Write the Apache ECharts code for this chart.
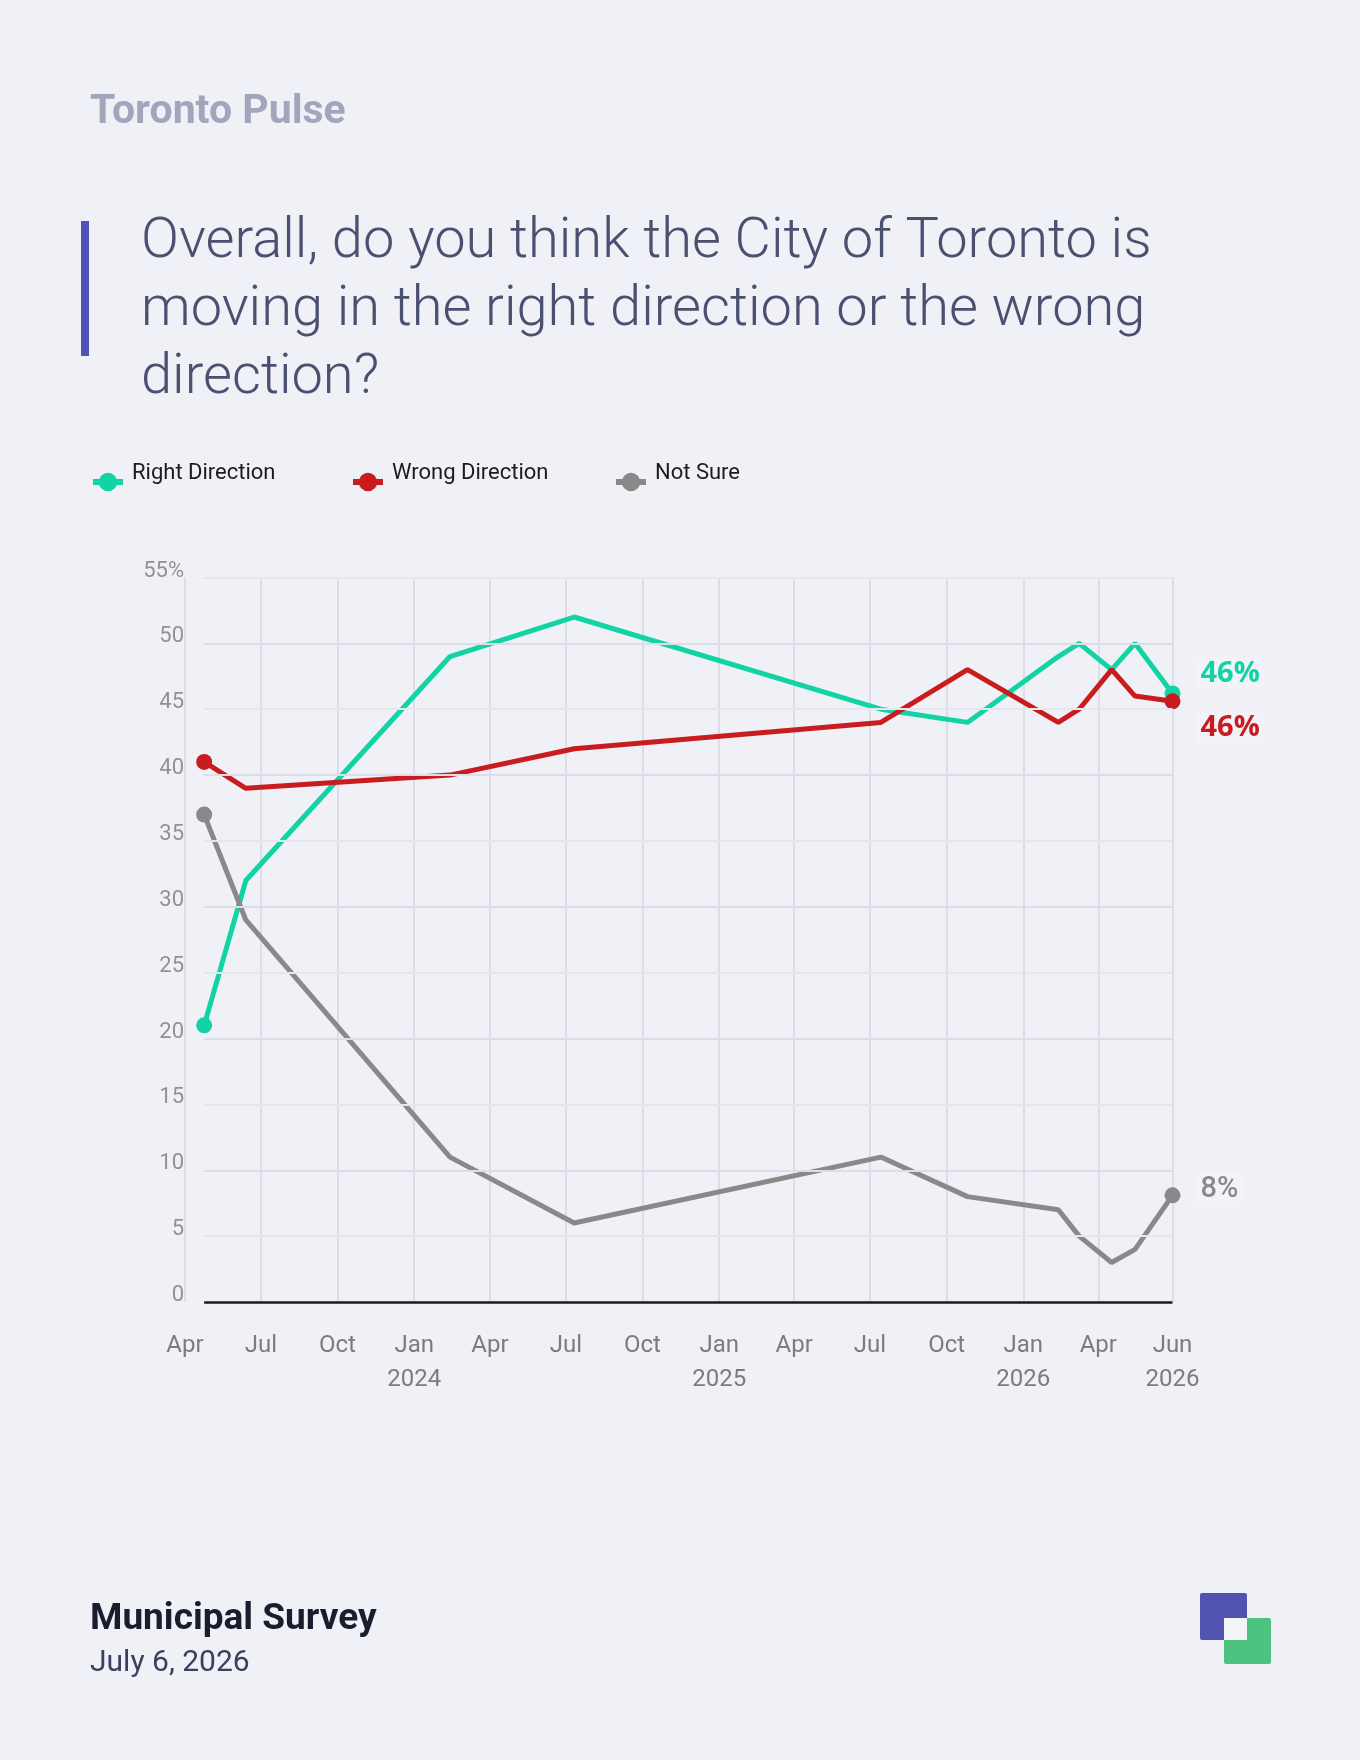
<!DOCTYPE html>
<html>
<head>
<meta charset="utf-8">
<script src="https://cdn.jsdelivr.net/npm/echarts@6/dist/echarts.min.js"></script>
<style>
html,body{margin:0;padding:0;background:#f0f1f7;}
#chart{width:1360px;height:1760px;}
</style>
</head>
<body>
<div id="chart"></div>
<script>
// ---- data ----
const surveyDates = ['2023-04-24','2023-06-13','2024-02-13','2024-07-11','2025-07-14','2025-10-26','2026-02-12','2026-03-09','2026-04-17','2026-05-15','2026-06-29'];
const rightDirection = [21, 32, 49, 52, 45, 44, 49, 50, 48, 50, 46.2];
const wrongDirection = [41, 39, 40, 42, 44, 48, 44, 45, 48, 46, 45.6];
const notSure        = [37, 29, 11, 6, 11, 8, 7, 5, 3, 4, 8.1];
const seriesNames = ['Right Direction', 'Wrong Direction', 'Not Sure'];
const yTicks = [0, 5, 10, 15, 20, 25, 30, 35, 40, 45, 50, 55];
const axisStartDate = '2023-04-01';
const monthNames = ['Jan','Feb','Mar','Apr','May','Jun','Jul','Aug','Sep','Oct','Nov','Dec'];

// ---- helpers ----
function toTs(s) { const p = s.split('-').map(Number); return Date.UTC(p[0], p[1] - 1, p[2]); }
const ts = surveyDates.map(toTs);
const firstTs = ts[0];
const lastTs = ts[ts.length - 1];
const axisMin = toTs(axisStartDate);
const DAY = 86400000;

const colors = { right: '#12d3a5', wrong: '#c81c1f', unsure: '#898989' };
const legendLefts = [90, 350, 613];

function makeData(values, labelCfg) {
  const last = values.length - 1;
  return values.map((v, i) => {
    const item = { value: [ts[i], v] };
    if (i === 0 || i === last) { item.symbol = 'circle'; item.symbolSize = 16; }
    else { item.symbol = 'none'; }
    if (i === last) item.label = labelCfg;
    return item;
  });
}

function endLabel(color, dy, font, weight) {
  return {
    show: true,
    position: 'right',
    distance: 14,
    offset: [0, dy],
    formatter: p => Math.round(p.value[1]) + '%',
    color: color,
    fontFamily: font,
    fontWeight: weight,
    fontSize: 29,
    backgroundColor: 'rgba(255,255,255,0.14)',
    borderRadius: 6,
    padding: [2, 6]
  };
}

// horizontal gridlines drawn from first to last survey
const gridLineData = yTicks.map(v => {
  let style;
  if (v === 0) style = { color: '#1b1b1f', width: 2.5, type: 'solid' };
  else if (v % 10 === 0) style = { color: '#dcdde6', width: 2, type: 'solid' };
  else style = { color: '#e6e7ee', width: 2, type: 'solid' };
  return [{ coord: [firstTs, v], lineStyle: style }, { coord: [lastTs, v] }];
});

const legends = seriesNames.map((name, i) => ({
  data: [name],
  left: legendLefts[i],
  top: 462,
  padding: 0,
  itemWidth: 30,
  itemHeight: 23,
  lineStyle: { width: 6 },
  formatter: n => '{t|' + n + '}{s|}',
  textStyle: {
    fontSize: 22, fontFamily: 'Roboto', color: '#1c1c1c',
    rich: {
      t: { fontSize: 22, fontFamily: 'Roboto', color: '#1c1c1c', lineHeight: 22, verticalAlign: 'top', padding: [0, 0, 0, 4] },
      s: { height: 40, lineHeight: 40, width: 1 }
    }
  }
}));

const chart = echarts.init(document.getElementById('chart'), null, { renderer: 'canvas' });

const option = {
  backgroundColor: '#f0f1f7',
  animation: false,
  useUTC: true,
  textStyle: { fontFamily: 'Roboto' },
  graphic: [
    { type: 'text', x: 90, y: 113, style: { text: 'Toronto Pulse', font: 'bold 41px Roboto', fill: '#a1a6bd', verticalAlign: 'middle' } },
    { type: 'rect', shape: { x: 81, y: 221, width: 8, height: 135 }, style: { fill: '#4f53b3' } },
    { type: 'text', x: 141, y: 209, style: {
        text: 'Overall, do you think the City of Toronto is\nmoving in the right direction or the wrong\ndirection?',
        font: '300 56px Roboto', lineHeight: 68, fill: '#4b5071', verticalAlign: 'top' } },
    { type: 'text', x: 90, y: 1620, style: { text: 'Municipal Survey', font: 'bold 37px Roboto', fill: '#1b1c2e', verticalAlign: 'middle' } },
    { type: 'text', x: 90, y: 1663, style: { text: 'July 6, 2026', font: '30px Roboto', fill: '#3b4060', verticalAlign: 'middle' } },
    { type: 'rect', shape: { x: 1200, y: 1593, width: 47, height: 47, r: 2 }, style: { fill: '#5054b0' } },
    { type: 'rect', shape: { x: 1224, y: 1618, width: 47, height: 46, r: 2 }, style: { fill: '#4dc37f' } },
    { type: 'rect', shape: { x: 1224, y: 1618, width: 23, height: 22 }, style: { fill: '#f3f4f8' } }
  ],
  legend: legends,
  grid: { left: 185, right: 187.5, top: 577.5, bottom: 458, containLabel: false },
  xAxis: {
    type: 'time',
    min: axisMin,
    max: lastTs,
    minInterval: 92 * DAY,
    maxInterval: 92 * DAY,
    axisLine: { show: false },
    axisTick: { show: false },
    splitLine: { show: true, lineStyle: { color: '#dcdde6', width: 2 } },
    axisLabel: {
      showMinLabel: true,
      showMaxLabel: true,
      color: '#7c7c7c',
      fontSize: 24,
      lineHeight: 34,
      margin: 27,
      hideOverlap: false,
      formatter: function (val) {
        const d = new Date(val);
        const m = d.getUTCMonth();
        if (m === 0 || val === lastTs) return monthNames[m] + '\n' + d.getUTCFullYear();
        return monthNames[m];
      }
    }
  },
  yAxis: {
    type: 'value',
    min: 0,
    max: 55,
    interval: 5,
    axisLine: { show: false },
    axisTick: { show: false },
    splitLine: { show: false },
    axisLabel: {
      color: '#929292',
      fontSize: 22,
      margin: 1,
      verticalAlign: 'bottom',
      lineHeight: 13,
      formatter: v => (v === 55 ? v + '%' : String(v))
    }
  },
  series: [
    {
      name: '_grid',
      type: 'line',
      data: [[firstTs, 0], [lastTs, 0]],
      symbol: 'none',
      lineStyle: { opacity: 0 },
      silent: true,
      z: 1,
      markLine: { silent: true, symbol: ['none', 'none'], label: { show: false }, data: gridLineData, animation: false }
    },
    {
      name: seriesNames[0], type: 'line', z: 3,
      color: colors.right, symbol: 'circle', symbolSize: 16,
      lineStyle: { width: 5, color: colors.right },
      itemStyle: { color: colors.right },
      data: makeData(rightDirection, endLabel(colors.right, -20, 'Open Sans', 'bold'))
    },
    {
      name: seriesNames[1], type: 'line', z: 4,
      color: colors.wrong, symbol: 'circle', symbolSize: 16,
      lineStyle: { width: 5, color: colors.wrong },
      itemStyle: { color: colors.wrong },
      data: makeData(wrongDirection, endLabel(colors.wrong, 26, 'Open Sans', 'bold'))
    },
    {
      name: seriesNames[2], type: 'line', z: 3,
      color: colors.unsure, symbol: 'circle', symbolSize: 16,
      lineStyle: { width: 5, color: colors.unsure },
      itemStyle: { color: colors.unsure },
      data: makeData(notSure, endLabel(colors.unsure, -6, 'Roboto', 500))
    }
  ]
};

chart.setOption(option);
</script>
</body>
</html>
